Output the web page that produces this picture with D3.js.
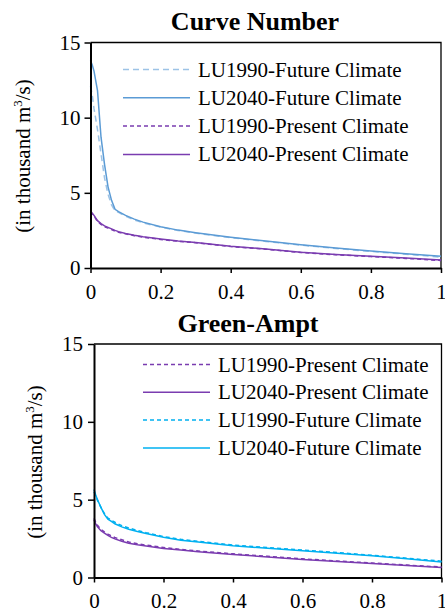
<!DOCTYPE html>
<html>
<head>
<meta charset="utf-8">
<script src="https://cdn.jsdelivr.net/npm/d3@7/dist/d3.min.js"></script>
<style>
  html, body { margin: 0; padding: 0; background: #fff; }
  svg { display: block; }
</style>
</head>
<body>
<svg id="chart" width="445" height="613"></svg>
<script>
// ---------- DATA ----------
const xTicks = [0, 0.2, 0.4, 0.6, 0.8, 1];
const yTicks = [0, 5, 10, 15];

// Curve Number panel
const cnX          = [0, 0.005, 0.01, 0.02, 0.03, 0.04, 0.05, 0.06, 0.07, 0.08, 0.1, 0.125, 0.15, 0.2, 0.25, 0.3, 0.4, 0.5, 0.6, 0.7, 0.8, 0.9, 1.0];
const cnFut1990    = [12.1, 11.5, 10.6, 9.2, 7.6, 6.0, 4.9, 4.2, 3.8, 3.7, 3.45, 3.2, 3.0, 2.72, 2.5, 2.32, 2.02, 1.77, 1.52, 1.3, 1.1, 0.92, 0.72];
const cnFut2040    = [13.8, 13.5, 13.1, 11.8, 8.7, 6.9, 5.4, 4.5, 3.9, 3.75, 3.5, 3.25, 3.05, 2.75, 2.52, 2.35, 2.05, 1.8, 1.55, 1.33, 1.13, 0.95, 0.78];
const cnPres1990   = [3.75, 3.6, 3.45, 3.1, 2.9, 2.75, 2.65, 2.55, 2.46, 2.38, 2.27, 2.15, 2.05, 1.9, 1.78, 1.68, 1.43, 1.25, 1.03, 0.88, 0.76, 0.64, 0.5];
const cnPres2040   = [3.8, 3.65, 3.5, 3.15, 2.95, 2.8, 2.7, 2.6, 2.5, 2.42, 2.3, 2.18, 2.08, 1.93, 1.8, 1.7, 1.45, 1.27, 1.05, 0.9, 0.78, 0.66, 0.53];

// Green-Ampt panel
const gaX          = [0, 0.005, 0.01, 0.02, 0.03, 0.04, 0.05, 0.06, 0.08, 0.1, 0.125, 0.15, 0.2, 0.25, 0.3, 0.4, 0.5, 0.6, 0.7, 0.8, 0.9, 1.0];
const gaPres1990   = [3.8, 3.55, 3.35, 3.08, 2.93, 2.79, 2.67, 2.57, 2.42, 2.28, 2.17, 2.08, 1.93, 1.8, 1.7, 1.52, 1.36, 1.2, 1.06, 0.93, 0.8, 0.67];
const gaPres2040   = [3.7, 3.45, 3.25, 3.0, 2.85, 2.7, 2.58, 2.48, 2.33, 2.2, 2.1, 2.02, 1.87, 1.76, 1.66, 1.48, 1.32, 1.16, 1.03, 0.9, 0.77, 0.64];
const gaFut1990    = [5.5, 5.25, 4.95, 4.5, 4.1, 3.82, 3.68, 3.55, 3.33, 3.18, 3.02, 2.88, 2.63, 2.45, 2.32, 2.08, 1.92, 1.76, 1.6, 1.43, 1.24, 1.05];
const gaFut2040    = [5.65, 5.3, 5.0, 4.5, 4.05, 3.75, 3.6, 3.45, 3.25, 3.1, 2.95, 2.82, 2.58, 2.4, 2.28, 2.04, 1.88, 1.72, 1.56, 1.39, 1.2, 1.0];

const cnTitle = "Curve Number";
const gaTitle = "Green-Ampt";
const cnLegend = ["LU1990-Future Climate", "LU2040-Future Climate", "LU1990-Present Climate", "LU2040-Present Climate"];
const gaLegend = ["LU1990-Present Climate", "LU2040-Present Climate", "LU1990-Future Climate", "LU2040-Future Climate"];

// ---------- STYLES ----------
const FONT = "'Liberation Serif'";
const C_BLUE_LIGHT = "#9dc3e6";
const C_BLUE = "#5b9bd5";
const C_PURPLE = "#7a3cb0";
const C_CYAN = "#00b0f0";

const svg = d3.select("#chart");

function txt(sel, size, bold) {
  sel.style("font-family", FONT).style("font-size", size + "px");
  if (bold) sel.style("font-weight", "bold");
  return sel;
}

function panel(cfg) {
  const x = d3.scaleLinear().domain([0, 1]).range([cfg.left, cfg.right]);
  const y = d3.scaleLinear().domain([0, 15]).range([cfg.bottom, cfg.top]);
  const g = svg.append("g");

  // title
  txt(g.append("text").attr("x", cfg.titleX).attr("y", cfg.titleY).attr("text-anchor", "middle"), 26, true)
    .text(cfg.title);

  // frame (top & right)
  g.append("path")
    .attr("d", `M${cfg.left},${cfg.top}H${cfg.right}V${cfg.bottom}`)
    .attr("fill", "none").attr("stroke", "#000").attr("stroke-width", 1.3);

  // series
  const line = d3.line().x(d => x(d[0])).y(d => y(d[1]));
  cfg.series.forEach(s => {
    const pts = cfg.xs.map((xv, i) => [xv, s.values[i]]);
    g.append("path").datum(pts).attr("d", line)
      .attr("fill", "none").attr("stroke", s.color).attr("stroke-width", 1.5)
      .attr("stroke-dasharray", s.dash || null);
  });

  // axes
  const ax = g.append("g").attr("transform", `translate(0,${cfg.bottom})`)
    .call(d3.axisBottom(x).tickValues(xTicks).tickSizeInner(5).tickSizeOuter(0).tickPadding(11)
      .tickFormat(d => d === 0 ? "0" : d === 1 ? "1" : d3.format(".1f")(d)));
  const ay = g.append("g").attr("transform", `translate(${cfg.left},0)`)
    .call(d3.axisLeft(y).tickValues(yTicks).tickSizeInner(6).tickSizeOuter(0).tickPadding(cfg.yPad));
  [ax, ay].forEach(a => {
    a.attr("font-family", null).attr("font-size", null);
    a.select(".domain").attr("stroke", "#000").attr("stroke-width", 2);
    a.selectAll(".tick line").attr("stroke", "#000").attr("stroke-width", 1.5);
    txt(a.selectAll(".tick text"), 21).attr("fill", "#000");
  });

  // y label
  const yl = txt(g.append("text").attr("transform", `translate(${cfg.ylabX},${cfg.ylabY}) rotate(-90)`)
    .attr("text-anchor", "middle"), 21);
  yl.append("tspan").text("(in thousand m");
  yl.append("tspan").style("font-size", "13px").attr("dy", -8).text("3");
  yl.append("tspan").attr("dy", 8).text("/s)");

  // legend
  cfg.series.forEach((s, i) => {
    const ly = cfg.legY + i * cfg.legStep;
    g.append("line").attr("x1", cfg.legX1).attr("x2", cfg.legX2).attr("y1", ly).attr("y2", ly)
      .attr("stroke", s.color).attr("stroke-width", 1.5).attr("stroke-dasharray", s.dash || null);
    txt(g.append("text").attr("x", cfg.legX2 + 8).attr("y", ly + 7), 21).text(cfg.legend[i]);
  });
}

panel({
  left: 90.5, right: 441, top: 42.5, bottom: 268,
  title: cnTitle, titleX: 255, titleY: 29.5,
  xs: cnX, yPad: 4, ylabX: 30, ylabY: 156,
  legend: cnLegend, legX1: 123, legX2: 190, legY: 69.5, legStep: 28.3,
  series: [
    { values: cnFut1990, color: C_BLUE_LIGHT, dash: "6,4" },
    { values: cnFut2040, color: C_BLUE },
    { values: cnPres1990, color: C_PURPLE, dash: "4,3" },
    { values: cnPres2040, color: C_PURPLE }
  ]
});

panel({
  left: 94, right: 441.5, top: 344, bottom: 577.5,
  title: gaTitle, titleX: 248, titleY: 332,
  xs: gaX, yPad: 5, ylabX: 42, ylabY: 462,
  legend: gaLegend, legX1: 143, legX2: 210, legY: 364.5, legStep: 27.8,
  series: [
    { values: gaPres1990, color: C_PURPLE, dash: "4,3" },
    { values: gaPres2040, color: C_PURPLE },
    { values: gaFut1990, color: C_CYAN, dash: "4,3" },
    { values: gaFut2040, color: C_CYAN }
  ]
});
</script>
</body>
</html>
